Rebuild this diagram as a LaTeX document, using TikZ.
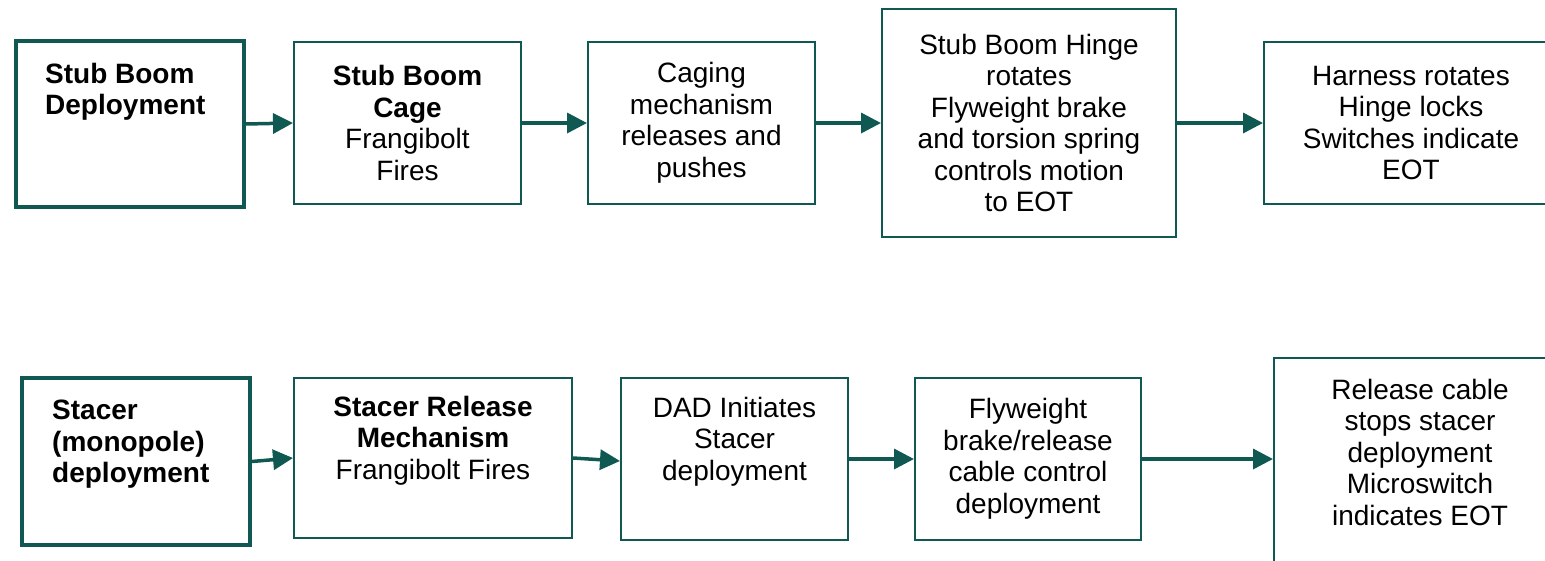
\documentclass[tikz,border=0pt]{standalone}
\usepackage{fontspec}
\setmainfont{Liberation Sans}
\usetikzlibrary{arrows.meta,calc}
\definecolor{teal}{RGB}{16,88,82}
\tikzset{
  thinbox/.style={draw=teal, line width=2pt, minimum width=#1, inner sep=0pt, align=center, font=\fontsize{28}{31.5}\selectfont},
  thickbox/.style={draw=teal, line width=3.5pt, minimum width=#1, inner sep=0pt},
  txt/.style={align=center, inner sep=0pt, font=\fontsize{28}{31.5}\selectfont},
  lefttxt/.style={align=left, inner sep=0pt, anchor=north west, font=\fontsize{28}{31.5}\selectfont\bfseries},
  flow/.style={draw=teal, line width=3.5pt, -{Triangle[length=20pt,width=20pt]}}
}
\begin{document}
\begin{tikzpicture}[x=1pt,y=-1pt]
\useasboundingbox (0,0) rectangle (1545,560);
\clip (0,0) rectangle (1545,560);
% top row
\node[thickbox=228pt, minimum height=166pt] (a1) at (130,124) {};
\node[lefttxt] (a1t) at (45,63) {Stub Boom\\Deployment};
\node[thinbox=227pt, minimum height=162pt] (a2) at (407.5,123) {\textbf{Stub Boom}\\\textbf{Cage}\\Frangibolt\\Fires};
\node[thinbox=227pt, minimum height=162pt] (a3) at (701.5,123) {Caging\\mechanism\\releases and\\pushes};
\node[thinbox=294pt, minimum height=228pt] (a4) at (1029,123) {Stub Boom Hinge\\rotates\\Flyweight brake\\and torsion spring\\controls motion\\to EOT};
\node[thinbox=294pt, minimum height=162pt] (a5) at (1411,123) {Harness rotates\\Hinge locks\\Switches indicate\\EOT};
% bottom row
\node[thickbox=228pt, minimum height=167pt] (b1) at (136,461.5) {};
\node[lefttxt] (b1t) at (52,400) {Stacer\\(monopole)\\deployment};
\node[thinbox=278pt, minimum height=160pt] (b2) at (433,458) {\textbf{Stacer Release}\\\textbf{Mechanism}\\Frangibolt Fires\\\strut};
\node[thinbox=227pt, minimum height=162pt] (b3) at (734.5,459) {DAD Initiates\\Stacer\\deployment\\\strut};
\node[thinbox=226pt, minimum height=162pt] (b4) at (1028,459) {Flyweight\\brake/release\\cable control\\deployment};
\node[thinbox=294pt, minimum height=240pt, anchor=north west] (b5) at (1273,357) {};
\node[txt] (b5t) at (1420,452) {Release cable\\stops stacer\\deployment\\Microswitch\\indicates EOT};
% connectors
\draw[flow] (a1.east) -- (a2.west);
\draw[flow] (a2.east) -- (a3.west);
\draw[flow] (a3.east) -- (a4.west);
\draw[flow] (a4.east) -- (a5.west);
\draw[flow] (b1.east) -- (b2.west);
\draw[flow] (b2.east) -- ($(b3.west)+(0,2)$);
\draw[flow] (b3.east) -- (b4.west);
\draw[flow] (b4.east) -- (b4.east -| b5.west);
\end{tikzpicture}
\end{document}
